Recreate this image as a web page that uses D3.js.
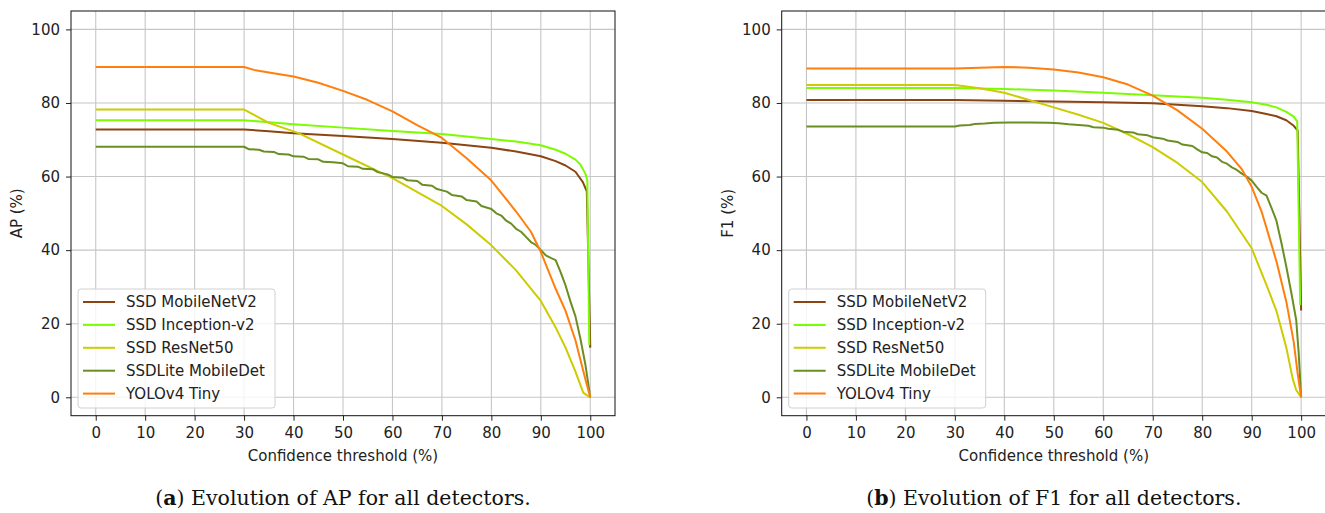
<!DOCTYPE html>
<html>
<head>
<meta charset="utf-8">
<script src="https://cdn.jsdelivr.net/npm/d3@7"></script>
<style>
  body { margin: 0; background: white; }
  svg { display: block; }
  .tick text { font-family: "DejaVu Sans", sans-serif; font-size: 15px; fill: #222; }
  .label { font-family: "DejaVu Sans", sans-serif; font-size: 15px; fill: #222; }
  .caption { font-family: "DejaVu Serif", serif; font-size: 20.5px; fill: #111; }
</style>
</head>
<body>
<svg id="chart" width="1325" height="513"></svg>
<script>

// series names and colours, in plotting order
var names = ["SSD MobileNetV2", "SSD Inception-v2", "SSD ResNet50", "SSDLite MobileDet", "YOLOv4 Tiny"];
var colors = ["#8b4513", "#7cfc00", "#cccc00", "#6b8e23", "#ff7f0e"];

var xTicks = [0, 10, 20, 30, 40, 50, 60, 70, 80, 90, 100];
var yTicks = [0, 20, 40, 60, 80, 100];

// AP (%) vs confidence threshold (%)
var apMobileNetV2 = [[0,72.8],[30,72.8],[35,72.3],[40,71.8],[50,71],[60,70.2],[70,69.2],[80,67.8],[85,66.8],[90,65.5],[93,64.2],[95,63],[97,61.3],[98.5,58.5],[99.3,56],[100,13.5]];
var apInceptionV2 = [[0,75.3],[30,75.3],[40,74.2],[50,73.3],[60,72.4],[70,71.6],[80,70.2],[85,69.5],[90,68.5],[93,67.3],[95,66.2],[97,64.6],[98,63.3],[99,60.8],[99.4,59],[99.8,14.2]];
var apResNet50 = [[0,78.2],[30,78.2],[35,74.6],[41,71.8],[50,66],[60,59.6],[70,52],[75,47],[80,41.3],[85,34.5],[90,26.2],[93,19],[95,13.5],[97,7],[98.6,1.2],[100,0]];
var apMobileDet = [[0,68.1],[30,68.1],[31,67.4],[33,67.3],[34,66.8],[36,66.7],[37,66.1],[39,66],[40,65.5],[42,65.4],[43,64.8],[45,64.7],[46,64],[48,63.9],[50,63.6],[51,62.8],[53,62.7],[54,62.1],[56,62],[57,61.2],[59,60.6],[60,59.9],[62,59.7],[63,59],[65,58.8],[66,57.8],[68,57.5],[69,56.6],[71,55.9],[72,55],[74,54.6],[75,53.6],[77,53.2],[78,52],[80,51.2],[81,50],[82,49.4],[83,48],[84,47.2],[85,45.8],[86,45],[87,43.6],[88,42.2],[89,41.4],[90,40],[91,38.6],[92,37.9],[93,37.3],[94,34],[95,30.4],[96,26],[97,22],[98,16],[99,9],[100,0]];
var apYolo = [[0,89.8],[30,89.8],[32,89],[35,88.3],[40,87.2],[45,85.5],[50,83.3],[55,80.8],[60,77.7],[65,74],[70,70.5],[75,65],[80,58.9],[85,50.5],[88,45],[90,39.5],[93,29.5],[95,23.5],[97,15.5],[99,5],[100,0]];

// F1 (%) vs confidence threshold (%)
var f1MobileNetV2 = [[0,80.8],[30,80.8],[40,80.6],[50,80.4],[60,80.2],[70,79.9],[80,79.1],[85,78.6],[90,77.8],[93,77],[95,76.4],[97,75.3],[98.5,73.8],[99.3,72.5],[100,23.6]];
var f1InceptionV2 = [[0,84.1],[30,84.1],[40,83.8],[50,83.4],[60,82.8],[70,82.1],[80,81.4],[85,80.9],[90,80.2],[93,79.5],[95,78.8],[97,77.6],[98.5,76.3],[99.2,75],[99.8,25]];
var f1ResNet50 = [[0,84.9],[30,84.9],[35,84],[40,82.8],[45,80.8],[50,78.8],[55,76.8],[60,74.6],[65,71.5],[70,68],[75,63.7],[80,58.5],[85,50.5],[90,40.5],[93,30.5],[95,23.5],[97,13.5],[98.3,5],[99,2],[100,0]];
var f1MobileDet = [[0,73.6],[30,73.6],[31,73.9],[33,74],[34,74.3],[36,74.4],[38,74.6],[41,74.7],[45,74.7],[49,74.6],[51,74.5],[53,74.2],[55,74],[57,73.8],[58,73.4],[60,73.3],[61,73],[63,72.7],[64,72.2],[66,72],[67,71.5],[69,71.2],[70,70.7],[72,70.3],[73,69.8],[75,69.4],[76,68.7],[78,68.3],[79,67.4],[80,66.6],[81,66.4],[82,65.5],[83,65.2],[84,64],[85,63.5],[86,62.5],[87,61.8],[88,60.8],[89,60],[90,58.9],[91,57.2],[92,55.6],[93,54.8],[94,51.5],[95,48],[96,42],[97,35.5],[98,28.5],[99,21],[99.5,12],[100,0]];
var f1Yolo = [[0,89.4],[30,89.4],[35,89.6],[40,89.8],[45,89.6],[50,89.1],[55,88.3],[60,87],[65,85],[70,82],[75,78],[80,73],[85,66.8],[88,62],[90,57.2],[92,50.5],[94,41.5],[95,37],[97,26],[98.5,15],[99.3,6.4],[100,0]];

var svg = d3.select("#chart");

function drawPanel(x0, x1, series, yLabel, letter, captionText) {
    var top = 11, bottom = 415.7;

    var x = d3.scaleLinear().domain([-5, 105]).range([x0, x1]);
    var y = d3.scaleLinear().domain([-5, 105]).range([bottom, top]);

    var g = svg.append("g");

    // grid
    g.selectAll("line.vgrid")
        .data(xTicks)
        .enter().append("line")
        .attr("class", "vgrid")
        .attr("x1", function(d) { return x(d); })
        .attr("x2", function(d) { return x(d); })
        .attr("y1", top).attr("y2", bottom)
        .attr("stroke", "#c6c6c6").attr("stroke-width", 1.1);
    g.selectAll("line.hgrid")
        .data(yTicks)
        .enter().append("line")
        .attr("class", "hgrid")
        .attr("y1", function(d) { return y(d); })
        .attr("y2", function(d) { return y(d); })
        .attr("x1", x0).attr("x2", x1)
        .attr("stroke", "#c6c6c6").attr("stroke-width", 1.1);

    // axes
    var xAxis = g.append("g")
        .attr("transform", "translate(0," + bottom + ")")
        .call(d3.axisBottom(x).tickValues(xTicks).tickSize(5).tickPadding(5));
    var yAxis = g.append("g")
        .attr("transform", "translate(" + x0 + ",0)")
        .call(d3.axisLeft(y).tickValues(yTicks).tickSize(5).tickPadding(6));
    [xAxis, yAxis].forEach(function(a) {
        a.select(".domain").remove();
        a.selectAll(".tick line").attr("stroke", "#222").attr("stroke-width", 1);
    });
    xAxis.selectAll(".tick text").attr("dy", "0.8em");

    // lines
    var line = d3.line()
        .x(function(d) { return x(d[0]); })
        .y(function(d) { return y(d[1]); });

    series.forEach(function(s, i) {
        g.append("path")
            .datum(s)
            .attr("d", line)
            .attr("fill", "none")
            .attr("stroke", colors[i])
            .attr("stroke-width", 2)
            .attr("stroke-linejoin", "round");
    });

    // frame
    g.append("rect")
        .attr("x", x0).attr("y", top)
        .attr("width", x1 - x0).attr("height", bottom - top)
        .attr("fill", "none").attr("stroke", "#111").attr("stroke-width", 1);

    // legend
    var lx = x0 + 7, ly = 289;
    var leg = g.append("g").attr("transform", "translate(" + lx + "," + ly + ")");
    leg.append("rect")
        .attr("width", 197).attr("height", 119)
        .attr("rx", 3)
        .attr("fill", "white").attr("fill-opacity", 0.8)
        .attr("stroke", "#d0d0d0");
    var rows = leg.selectAll("g.row")
        .data(names)
        .enter().append("g")
        .attr("class", "row")
        .attr("transform", function(d, i) { return "translate(0," + (13 + i * 22.9) + ")"; });
    rows.append("line")
        .attr("x1", 5).attr("x2", 37)
        .attr("stroke", function(d, i) { return colors[i]; })
        .attr("stroke-width", 2);
    rows.append("text")
        .attr("class", "label")
        .attr("x", 48)
        .attr("dy", "0.35em")
        .text(function(d) { return d; });

    // axis labels
    g.append("text")
        .attr("class", "label")
        .attr("text-anchor", "middle")
        .attr("x", (x0 + x(105)) / 2 )
        .attr("y", 461)
        .text("Confidence threshold (%)");
    g.append("text")
        .attr("class", "label")
        .attr("text-anchor", "middle")
        .attr("transform", "translate(" + (x0 - 49) + "," + ((top + bottom) / 2) + ") rotate(-90)")
        .text(yLabel);

    // caption
    var cap = g.append("text")
        .attr("class", "caption")
        .attr("text-anchor", "middle")
        .attr("x", (x0 + x1) / 2)
        .attr("y", 505);
    cap.append("tspan").text("(");
    cap.append("tspan").attr("font-weight", "bold").text(letter);
    cap.append("tspan").text(")" + captionText);
}

drawPanel(71, 615,
    [apMobileNetV2, apInceptionV2, apResNet50, apMobileDet, apYolo],
    "AP (%)", "a", " Evolution of AP for all detectors.");

drawPanel(781.7, 1325.9,
    [f1MobileNetV2, f1InceptionV2, f1ResNet50, f1MobileDet, f1Yolo],
    "F1 (%)", "b", " Evolution of F1 for all detectors.");

</script>
</body>
</html>
